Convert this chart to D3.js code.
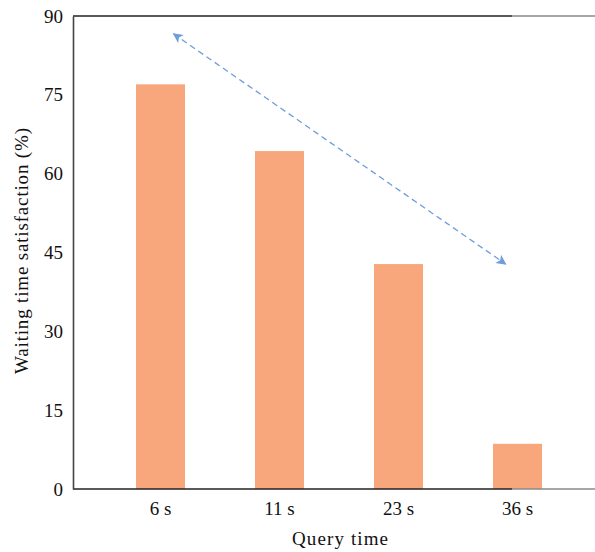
<!DOCTYPE html>
<html>
<head>
<meta charset="utf-8">
<script src="https://cdn.jsdelivr.net/npm/d3@7"></script>
<style>
  body { margin: 0; background: #fff; }
  svg { display: block; font-family: "Liberation Serif", "DejaVu Serif", serif; }
</style>
</head>
<body>
<div id="chart"></div>
<script>
const categories = ["6 s", "11 s", "23 s", "36 s"];
const satisfaction = [77, 64.3, 42.8, 8.6];
const yTicks = [0, 15, 30, 45, 60, 75, 90];
// trend arrow, in data units: x as category index, y as percent
const arrowFrom = { i: 0.11, v: 86.6 };
const arrowTo = { i: 2.9, v: 42.8 };

const width = 595, height = 552;
const plotLeft = 73, plotTop = 16, plotBottom = 489;

const svg = d3.select("#chart")
  .append("svg")
  .attr("width", width)
  .attr("height", height);

const x = d3.scaleBand()
  .domain(categories)
  .range([101, 577])
  .paddingInner(0.588)
  .paddingOuter(0.294);

const y = d3.scaleLinear()
  .domain([0, 90])
  .range([plotBottom, plotTop]);

// helper for fractional category positions
const xi = i => x(categories[0]) + x.bandwidth() / 2 + i * x.step();

svg.selectAll("rect.bar")
  .data(satisfaction)
  .join("rect")
  .attr("class", "bar")
  .attr("x", (d, i) => x(categories[i]))
  .attr("y", d => y(d))
  .attr("width", x.bandwidth())
  .attr("height", d => y(0) - y(d))
  .attr("fill", "#f7a77b");

// frame lines: top and bottom run to the edge, dark part then grey
[plotTop, plotBottom].forEach(yy => {
  svg.append("line").attr("x1", 512).attr("x2", width)
    .attr("y1", yy).attr("y2", yy)
    .attr("stroke", "#8a8a8a").attr("stroke-width", 1.5);
  svg.append("line").attr("x1", plotLeft).attr("x2", 512)
    .attr("y1", yy).attr("y2", yy)
    .attr("stroke", "#222").attr("stroke-width", 1.6);
});

// y axis
const yAxis = d3.axisLeft(y).tickValues(yTicks).tickSize(0).tickPadding(10);
const gy = svg.append("g").attr("transform", `translate(${plotLeft},0)`).call(yAxis);
gy.select(".domain").attr("stroke", "#444").attr("stroke-width", 1.6);
gy.selectAll("text")
  .attr("font-family", "Liberation Serif, serif")
  .attr("font-size", 19)
  .attr("fill", "#111");

// x axis labels
const xAxis = d3.axisBottom(x).tickSize(0).tickPadding(13);
const gx = svg.append("g").attr("transform", `translate(0,${plotBottom})`).call(xAxis);
gx.select(".domain").remove();
gx.selectAll("text")
  .attr("font-family", "Liberation Serif, serif")
  .attr("font-size", 19)
  .attr("fill", "#111");

// axis titles
svg.append("text")
  .attr("x", 340)
  .attr("y", 545)
  .attr("text-anchor", "middle")
  .attr("font-size", 19)
  .attr("textLength", 96)
  .attr("fill", "#111")
  .text("Query time");

svg.append("text")
  .attr("transform", `translate(28,251) rotate(-90)`)
  .attr("text-anchor", "middle")
  .attr("font-size", 19)
  .attr("textLength", 246)
  .attr("fill", "#111")
  .text("Waiting time satisfaction (%)");

// double-headed dashed arrow
const defs = svg.append("defs");
defs.append("marker")
  .attr("id", "head")
  .attr("viewBox", "0 0 10 10")
  .attr("refX", 9).attr("refY", 5)
  .attr("markerWidth", 12).attr("markerHeight", 10)
  .attr("markerUnits", "userSpaceOnUse")
  .attr("orient", "auto-start-reverse")
  .append("path")
  .attr("d", "M0,0L10,5L0,10L2.5,5Z")
  .attr("fill", "#6d9ddb");

svg.append("line")
  .attr("x1", xi(arrowFrom.i)).attr("y1", y(arrowFrom.v))
  .attr("x2", xi(arrowTo.i)).attr("y2", y(arrowTo.v))
  .attr("stroke", "#6d9ddb")
  .attr("stroke-width", 1.3)
  .attr("stroke-dasharray", "6,4")
  .attr("marker-start", "url(#head)")
  .attr("marker-end", "url(#head)");
</script>
</body>
</html>
